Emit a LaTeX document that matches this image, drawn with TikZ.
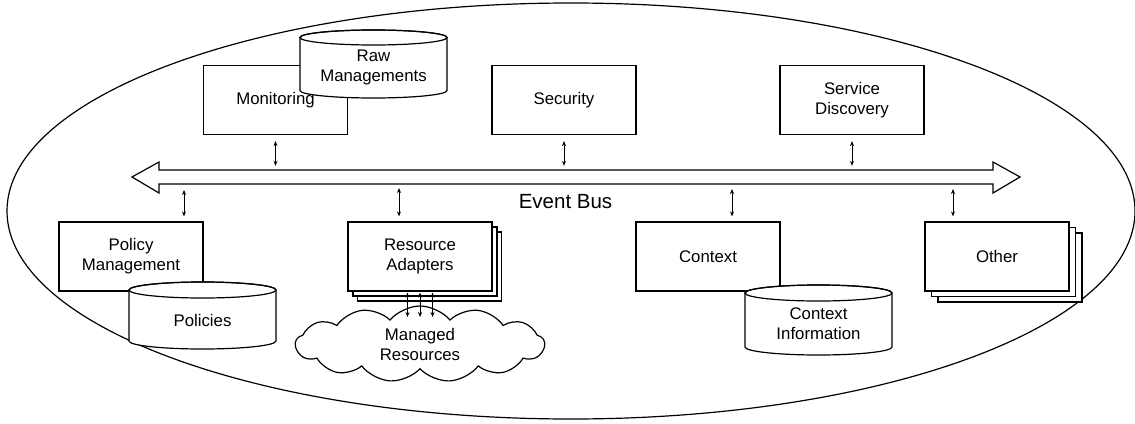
\documentclass[tikz,border=0pt]{standalone}
\usepackage{fontspec}
\setmainfont{Liberation Sans}
\usetikzlibrary{arrows.meta,shapes.geometric,shapes.symbols,calc}
\newcommand\lblfont{\fontsize{16.8}{20}\selectfont}
\newcommand\busfont{\fontsize{20.5}{24}\selectfont}
\begin{document}
\begin{tikzpicture}[x=1pt,y=-1pt,
  box/.style={draw, fill=white, line width=1.2pt, minimum width=144pt, minimum height=69pt, inner sep=0pt, align=center, font=\lblfont},
  lbl/.style={align=center, font=\lblfont, inner sep=0pt},
  dbl/.style={{Stealth[length=5pt,width=4pt]}-{Stealth[length=5pt,width=4pt]}, line width=0.8pt},
  db/.style={draw, fill=white, line width=1.2pt},
  outline/.style={draw, line width=1.2pt}]
\useasboundingbox (0,0) rectangle (1135,423);

% enclosing ellipse
\node[ellipse, outline, minimum width=1128pt, minimum height=416pt, inner sep=0pt] (frame) at (571,211) {};

% event bus
\node[minimum width=834pt, minimum height=14pt, inner sep=0pt] (bus) at (576,177) {};
\draw[line width=1.2pt, line join=miter] (132,177) -- (159,162) -- (159,170) -- (993,170) -- (993,162) -- (1020,177) -- (993,193) -- (993,184) -- (159,184) -- (159,193) -- cycle;
\node[inner sep=0pt, font=\busfont] (buslbl) at (565.5,202) {Event Bus};

% top row
\node[box] (mon) at (275.5,100) {};
\path[db] (300,37.5) -- (300,90.5) arc[start angle=180, end angle=360, x radius=73.5pt, y radius=7.5pt] -- (447,37.5) arc[start angle=0, end angle=180, x radius=73.5pt, y radius=7.5pt] -- cycle;
\draw[line width=1.2pt] (373.5,37.5) ellipse[x radius=73.5pt, y radius=7.5pt];
\node[lbl] (raw) at (373.5,67) {Raw\\Managements};
\node[lbl] (monlbl) at (275.5,100) {Monitoring};

\node[box] (sec) at (564,100) {Security};
\node[box] (sd) at (852,100) {Service\\Discovery};

% bottom row
\node[box] (pol) at (131,256.5) {Policy\\Management};
\path[db] (129,290) -- (129,341) arc[start angle=180, end angle=360, x radius=73.5pt, y radius=8pt] -- (276,290) arc[start angle=0, end angle=180, x radius=73.5pt, y radius=8pt] -- cycle;
\draw[line width=1.2pt] (202.5,290) ellipse[x radius=73.5pt, y radius=8pt];
\node[lbl] (pols) at (202.5,320) {Policies};

\node[box] (ra3) at (429.5,266.5) {};
\node[box] (ra2) at (425,261.5) {};
\node[box] (ra) at (420,256.5) {Resource\\Adapters};

\node[cloud, draw, fill=white, line width=1.2pt, cloud puffs=13, cloud puff arc=100, aspect=3.3, minimum width=249pt, minimum height=76pt, inner sep=0pt, align=center, font=\lblfont] (cloud) at (420,344) {Managed\\Resources};

\node[box] (ctx) at (708,256.5) {Context};
\path[db] (745,293) -- (745,347) arc[start angle=180, end angle=360, x radius=73.5pt, y radius=8pt] -- (892,293) arc[start angle=0, end angle=180, x radius=73.5pt, y radius=8pt] -- cycle;
\draw[line width=1.2pt] (818.5,293) ellipse[x radius=73.5pt, y radius=8pt];
\node[lbl] (ctxi) at (818.5,323.5) {Context\\Information};

\node[box] (oth3) at (1010,267.5) {};
\node[box] (oth2) at (1003.5,262) {};
\node[box] (oth) at (997,256.5) {Other};

% connectors to the bus
\coordinate (bpol) at (184,184);
\coordinate (bra) at (399,184);
\coordinate (bctx) at (732,184);
\coordinate (both) at (953,184);
\draw[dbl, shorten <=6pt, shorten >=4pt] (mon.south) -- (mon.south |- bus.north);
\draw[dbl, shorten <=6pt, shorten >=4pt] (sec.south) -- (sec.south |- bus.north);
\draw[dbl, shorten <=6pt, shorten >=4pt] (sd.south) -- (sd.south |- bus.north);
\draw[dbl, shorten <=6pt, shorten >=5pt] (bpol) -- (pol.north -| bpol);
\draw[dbl, shorten <=4pt, shorten >=5pt] (bra) -- (ra.north -| bra);
\draw[dbl, shorten <=5pt, shorten >=5pt] (bctx) -- (ctx.north -| bctx);
\draw[dbl, shorten <=5pt, shorten >=5pt] (both) -- (oth.north -| both);

% adapters to managed resources
\coordinate (c1) at (407.5,317);
\coordinate (c2) at (420,317);
\coordinate (c3) at (432.5,317);
\draw[dbl, shorten <=1pt] (ra.south -| c1) -- (c1);
\draw[dbl, shorten <=1pt] (ra.south -| c2) -- (c2);
\draw[dbl, shorten <=1pt] (ra.south -| c3) -- (c3);
\end{tikzpicture}
\end{document}
